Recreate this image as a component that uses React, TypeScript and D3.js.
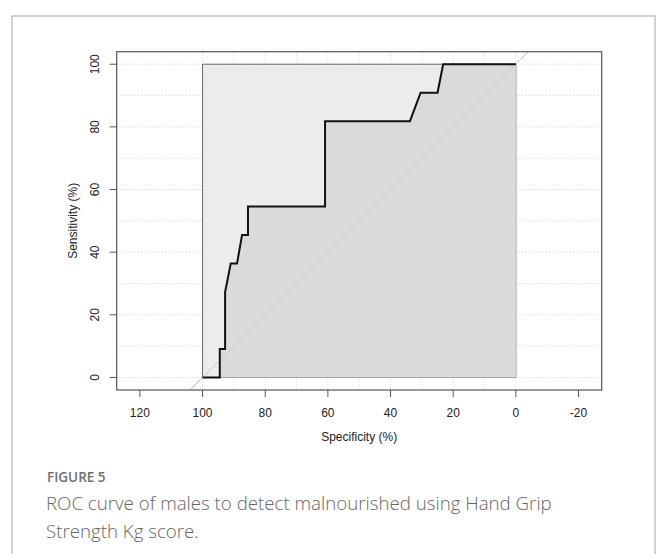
import * as d3 from "d3";

// ROC curve points (specificity %, sensitivity %)
const specificity = [100, 94.5, 94.5, 92.8, 92.8, 91.0, 89.0, 87.4, 85.5, 85.5, 60.9, 60.9, 33.8, 30.4, 25.0, 23.2, 0];
const sensitivity = [0, 0, 9.09, 9.09, 27.27, 36.36, 36.36, 45.45, 45.45, 54.55, 54.55, 81.82, 81.82, 90.91, 90.91, 100, 100];

const xTicks = [120, 100, 80, 60, 40, 20, 0, -20];
const yTicks = [0, 20, 40, 60, 80, 100];
const gridValues = [0, 10, 20, 30, 40, 50, 60, 70, 80, 90, 100];

const X_DOMAIN = [127.4, -27.4];
const Y_DOMAIN = [-4, 104];
const BOX = { left: 116.7, right: 601.7, top: 51.7, bottom: 390 };

export default function App() {
  const x = d3.scaleLinear().domain(X_DOMAIN).range([BOX.left, BOX.right]);
  const y = d3.scaleLinear().domain(Y_DOMAIN).range([BOX.bottom, BOX.top]);

  const points: [number, number][] = specificity.map((s, i) => [s, sensitivity[i]]);
  const line = d3
    .line<[number, number]>()
    .x((d) => x(d[0]))
    .y((d) => y(d[1]));

  // area under the curve, closed down to sensitivity 0
  const aucPoly: [number, number][] = [...points, [0, 0], [100, 0]];
  const maxPoly: [number, number][] = [[100, 0], [100, 100], [0, 100], [0, 0]];

  // chance diagonal: sensitivity = 100 - specificity, clipped to box
  const diag: [number, number][] = [
    [100 - Y_DOMAIN[0], Y_DOMAIN[0]],
    [100 - Y_DOMAIN[1], Y_DOMAIN[1]],
  ];

  const axisFont = "'Liberation Sans', Arial, sans-serif";
  const capFont = "'Open Sans', 'Noto Sans', sans-serif";

  return (
    <svg
      width={656}
      height={554}
      style={{ position: "absolute", left: 0, top: 0, background: "#fff" }}
    >
      {/* outer figure frame */}
      <rect x={12} y={16} width={643} height={560} fill="none" stroke="#c4c4c4" strokeWidth={1.5} />

      {/* grid */}
      <g stroke="#cfcfcf" strokeWidth={1} strokeDasharray="1,2">
        {gridValues.map((v) => (
          <line key={"h" + v} x1={BOX.left} x2={BOX.right} y1={y(v)} y2={y(v)} />
        ))}
        {gridValues.map((v) => (
          <line key={"v" + v} x1={x(v)} x2={x(v)} y1={BOX.top} y2={BOX.bottom} />
        ))}
      </g>

      {/* max auc polygon */}
      <path d={line(maxPoly) + "Z"} fill="#ececec" stroke="#6a6a6a" strokeWidth={1} />
      {/* auc polygon */}
      <path d={line(aucPoly) + "Z"} fill="#dadada" stroke="none" />

      <clipPath id="box">
        <rect x={BOX.left} y={BOX.top} width={BOX.right - BOX.left} height={BOX.bottom - BOX.top} />
      </clipPath>
      <path d={line(diag) ?? ""} stroke="#c6c6c6" strokeWidth={1} fill="none" clipPath="url(#box)" />

      {/* roc curve */}
      <path d={line(points) ?? ""} stroke="#111" strokeWidth={2} fill="none" strokeLinejoin="miter" />

      {/* plot box */}
      <rect
        x={BOX.left}
        y={BOX.top}
        width={BOX.right - BOX.left}
        height={BOX.bottom - BOX.top}
        fill="none"
        stroke="#555"
        strokeWidth={1.2}
      />

      {/* x axis */}
      <g fontFamily={axisFont} fontSize={12} fill="#222">
        {xTicks.map((t) => (
          <g key={t}>
            <line x1={x(t)} x2={x(t)} y1={BOX.bottom} y2={BOX.bottom + 7} stroke="#555" />
            <text x={x(t)} y={413} textAnchor="middle" dominantBaseline="central">
              {t}
            </text>
          </g>
        ))}
        <text x={(BOX.left + BOX.right) / 2} y={437} textAnchor="middle" dominantBaseline="central">
          Specificity (%)
        </text>
      </g>

      {/* y axis */}
      <g fontFamily={axisFont} fontSize={12} fill="#222">
        {yTicks.map((t) => (
          <g key={t}>
            <line x1={BOX.left - 7} x2={BOX.left} y1={y(t)} y2={y(t)} stroke="#555" />
            <text
              transform={`translate(95,${y(t)}) rotate(-90)`}
              textAnchor="middle"
              dominantBaseline="central"
            >
              {t}
            </text>
          </g>
        ))}
        <text
          transform={`translate(73,${(BOX.top + BOX.bottom) / 2}) rotate(-90)`}
          textAnchor="middle"
          dominantBaseline="central"
        >
          Sensitivity (%)
        </text>
      </g>

      {/* caption */}
      <text x={47} y={481.5} fontFamily={capFont} fontSize={13.5} fontWeight={600} fill="#707070">
        FIGURE 5
      </text>
      <g fontFamily={capFont} fontSize={18.7} fontWeight={300} fill="#666">
        <text x={46} y={510}>
          ROC curve of males to detect malnourished using Hand Grip
        </text>
        <text x={46} y={538}>
          Strength Kg score.
        </text>
      </g>
    </svg>
  );
}
